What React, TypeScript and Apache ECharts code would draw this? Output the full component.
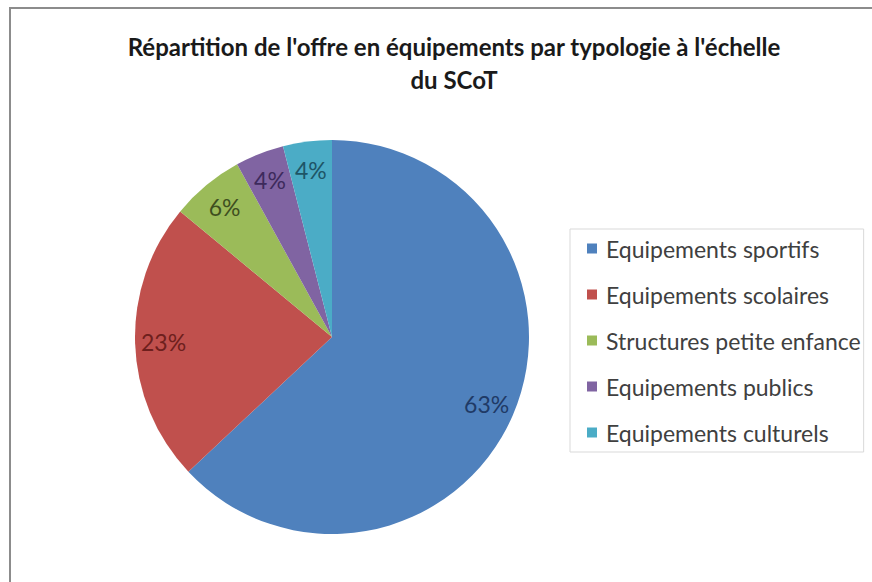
import React, { useEffect, useRef } from "react";
import * as echarts from "echarts";

const titleText = "Répartition de l'offre en équipements par typologie à l'échelle\ndu SCoT";
const categories = [
  "Equipements sportifs",
  "Equipements scolaires",
  "Structures petite enfance",
  "Equipements publics",
  "Equipements culturels",
];
const values = [63, 23, 6, 4, 4];
const colors = ["#4F81BD", "#C0504D", "#9BBB59", "#8064A2", "#4BACC6"];
const labelColors = ["#1F3A66", "#6E1F1D", "#3F4F1F", "#3D2A5C", "#1E5566"];

export default function App() {
  const ref = useRef<HTMLDivElement>(null);
  useEffect(() => {
    if (!ref.current) return;
    const chart = echarts.init(ref.current, null, { renderer: "svg" });
    const data = categories.map((name, i) => ({
      name,
      value: values[i],
      itemStyle: { color: colors[i] },
    }));
    const labelData = categories.map((name, i) => ({
      name,
      value: values[i],
      label: { color: labelColors[i] },
    }));
    chart.setOption({
      animation: false,
      backgroundColor: "#ffffff",
      title: {
        text: titleText,
        left: 449,
        textAlign: "center",
        top: 25,
        textStyle: {
          fontFamily: "Lato",
          fontWeight: "bold",
          fontSize: 24,
          lineHeight: 33,
          color: "#1a1a1a",
        },
      },
      legend: {
        orient: "vertical",
        left: 570,
        top: 229,
        data: categories,
        icon: "rect",
        itemWidth: 10,
        itemHeight: 10,
        itemGap: 23,
        padding: [8, 3, 8, 17],
        borderColor: "#d9d9d9",
        borderWidth: 1,
        textStyle: {
          fontFamily: "Lato",
          fontSize: 23,
          color: "#404040",
          padding: [0, 0, 0, 4],
        },
      },
      graphic: [
        {
          type: "rect",
          shape: { x: 10, y: 8, width: 900, height: 600 },
          style: { fill: "none", stroke: "#8c8c8c", lineWidth: 2 },
          silent: true,
        },
      ],
      series: [
        {
          type: "pie",
          center: [332, 337],
          radius: 197,
          startAngle: 90,
          clockwise: true,
          label: { show: false },
          labelLine: { show: false },
          data,
        },
        {
          type: "pie",
          center: [332, 337],
          radius: [134, 197],
          startAngle: 90,
          clockwise: true,
          silent: true,
          itemStyle: { color: "rgba(0,0,0,0)" },
          label: {
            show: true,
            position: "inside",
            formatter: "{c}%",
            fontFamily: "Lato",
            fontSize: 23,
          },
          labelLine: { show: false },
          data: labelData,
        },
      ],
    });
    return () => chart.dispose();
  }, []);
  return (
    <div
      ref={ref}
      style={{ position: "fixed", left: 0, top: 0, width: 872, height: 582 }}
    />
  );
}
